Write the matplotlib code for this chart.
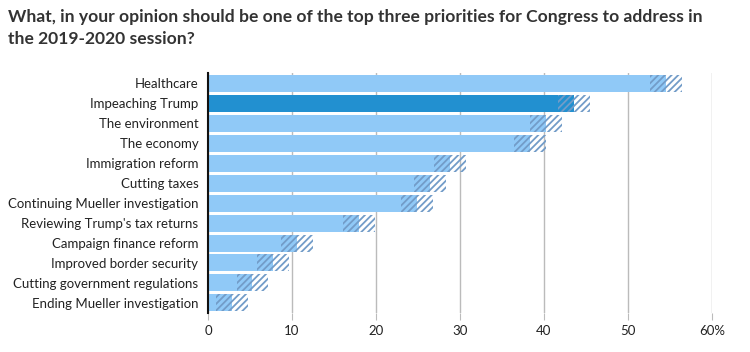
import matplotlib
matplotlib.use("Agg")
import matplotlib.pyplot as plt

# Survey data, top to bottom
categories = [
    "Healthcare",
    "Impeaching Trump",
    "The environment",
    "The economy",
    "Immigration reform",
    "Cutting taxes",
    "Continuing Mueller investigation",
    "Reviewing Trump's tax returns",
    "Campaign finance reform",
    "Improved border security",
    "Cutting government regulations",
    "Ending Mueller investigation",
]
values = [54.5, 43.6, 40.2, 38.3, 28.8, 26.4, 24.9, 18.0, 10.6, 7.7, 5.3, 2.9]
margin = [1.9, 1.9, 1.9, 1.9, 1.9, 1.9, 1.9, 1.9, 1.9, 1.9, 1.9, 1.9]
highlight = "Impeaching Trump"
xticks = [0, 10, 20, 30, 40, 50, 60]
xticklabels = ["0", "10", "20", "30", "40", "50", "60%"]

light = "#90c9f7"
dark = "#2290d0"
hatch_col = "#729cc8"

plt.rcParams["font.family"] = ["Lato", "DejaVu Sans"]
plt.rcParams["hatch.linewidth"] = 1.3

fig = plt.figure(figsize=(7.5, 3.52), dpi=100)
ax = fig.add_axes([0.2773, 0.1108, 0.672, 0.6818])

y = list(range(len(categories)))
colors = [dark if c == highlight else light for c in categories]

ax.barh(y, values, height=0.85, color=colors, zorder=2)
# margin of error band, hatched
lo = [v - m for v, m in zip(values, margin)]
ax.barh(y, [2 * m for m in margin], left=lo, height=0.85, facecolor="none",
        edgecolor=hatch_col, linewidth=0, hatch="/////", zorder=3)

ax.set_ylim(len(categories) - 0.5, -0.5)
ax.set_xlim(0, 60)
ax.set_yticks(y)
ax.set_yticklabels(categories, fontsize=9.5, color="#222222")
ax.set_xticks(xticks)
ax.set_xticklabels(xticklabels, fontsize=9.5, color="#222222")
ax.tick_params(axis="y", length=0, pad=7)
ax.tick_params(axis="x", length=5, color="#bbbbbb", pad=4)
ax.grid(axis="x", color="#bbbbbb", linewidth=1, zorder=0)
ax.set_axisbelow(True)
for s in ["top", "right", "bottom"]:
    ax.spines[s].set_visible(False)
ax.spines["left"].set_color("#111111")
ax.spines["left"].set_linewidth(1.5)

fig.text(0.0107, 0.975,
         "What, in your opinion should be one of the top three priorities for Congress to address in\nthe 2019-2020 session?",
         fontsize=12.6, fontweight="bold", color="#333333", va="top", ha="left",
         linespacing=1.45)

fig.savefig("out.png", dpi=100)
